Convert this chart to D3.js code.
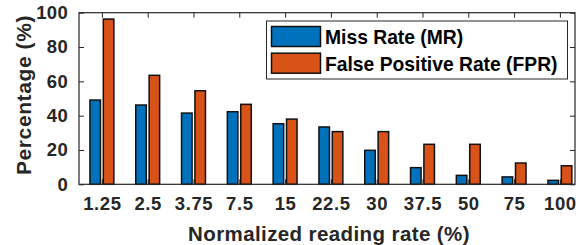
<!DOCTYPE html>
<html>
<head>
<meta charset="utf-8">
<script src="https://cdn.jsdelivr.net/npm/d3@7"></script>
<style>
  body { margin: 0; background: #fff; }
  svg text { font-family: "Liberation Sans", Arial, sans-serif; font-weight: bold; }
</style>
</head>
<body>
<div id="chart"></div>
<script>
// chart data
var rates = ["1.25", "2.5", "3.75", "7.5", "15", "22.5", "30", "37.5", "50", "75", "100"];
var missRate = [49.1, 46.2, 41.5, 42.3, 35.3, 33.4, 19.8, 9.7, 5.2, 4.3, 2.3];
var falsePosRate = [96.3, 63.5, 54.5, 46.6, 38.0, 30.7, 30.7, 23.3, 23.3, 12.4, 10.8];
var yTicks = [0, 20, 40, 60, 80, 100];
var seriesNames = ["Miss Rate (MR)", "False Positive Rate (FPR)"];
var seriesColors = ["#0072BD", "#D95319"];

var svgWidth = 581;
var svgHeight = 245;

var margin = { top: 12.7, right: 6, bottom: 60.7, left: 79 };
var chartWidth = svgWidth - margin.left - margin.right;
var chartHeight = svgHeight - margin.top - margin.bottom;
var axisColor = "#262626";

var svg = d3.select("#chart")
  .append("svg")
  .attr("width", svgWidth)
  .attr("height", svgHeight);

var chartGroup = svg.append("g")
  .attr("transform", `translate(${margin.left}, ${margin.top})`);

// x is numeric (category index), like matlab's bar positions
var x = d3.scaleLinear()
  .domain([0.5, 11.33])
  .range([0, chartWidth]);

var y = d3.scaleLinear()
  .domain([0, 100])
  .range([chartHeight, 0]);

var barOffset = 0.146;
var barWidth = x(0.23) - x(0);

// axes (ticks pointing inward on all four sides)
var tickIdx = rates.map((d, i) => i + 1);
chartGroup.append("g")
  .attr("transform", "translate(0," + chartHeight + ")")
  .call(d3.axisBottom(x).tickValues(tickIdx).tickSize(-5).tickPadding(13)
    .tickFormat((d, i) => rates[i]))
  .call(g => g.selectAll("text").style("font-size", "18.5px").attr("letter-spacing", "0.6px"));
chartGroup.append("g")
  .call(d3.axisTop(x).tickValues(tickIdx).tickSize(-5).tickFormat(""));
chartGroup.append("g")
  .call(d3.axisLeft(y).tickValues(yTicks).tickSize(-5).tickPadding(11))
  .call(g => g.selectAll("text").style("font-size", "18.5px").attr("letter-spacing", "0.3px"));
chartGroup.append("g")
  .attr("transform", "translate(" + chartWidth + ",0)")
  .call(d3.axisRight(y).tickValues(yTicks).tickSize(-5).tickFormat(""));

chartGroup.selectAll(".domain").remove();
chartGroup.selectAll(".tick line").attr("stroke", axisColor);
chartGroup.selectAll(".tick text").attr("fill", axisColor);

// bars
var series = [missRate, falsePosRate];
series.forEach(function(vals, s) {
  chartGroup.append("g")
    .selectAll("rect")
    .data(vals)
    .enter()
    .append("rect")
    .attr("x", (d, i) => x(i + 1 + (s === 0 ? -barOffset : barOffset)) - barWidth / 2)
    .attr("y", d => y(d))
    .attr("width", barWidth)
    .attr("height", d => y(0) - y(d))
    .attr("fill", seriesColors[s])
    .attr("stroke", "#111")
    .attr("stroke-width", 1.5);
});

// box around the plot
chartGroup.append("rect")
  .attr("x", 0)
  .attr("y", 0)
  .attr("width", chartWidth)
  .attr("height", chartHeight)
  .attr("fill", "none")
  .attr("stroke", axisColor)
  .attr("stroke-width", 1.2);

// legend
var legend = svg.append("g").attr("transform", "translate(266.5, 21)");
legend.append("rect")
  .attr("width", 301)
  .attr("height", 58)
  .attr("fill", "#fff")
  .attr("stroke", axisColor)
  .attr("stroke-width", 1);
seriesNames.forEach(function(name, i) {
  legend.append("rect")
    .attr("x", 5)
    .attr("y", 5.5 + i * 26.7)
    .attr("width", 49)
    .attr("height", 20)
    .attr("fill", seriesColors[i])
    .attr("stroke", "#111")
    .attr("stroke-width", 1.5);
  legend.append("text")
    .attr("x", 58.5)
    .attr("y", 23 + i * 26.7)
    .style("font-size", "19.3px")
    .attr("fill", "#000")
    .text(name);
});

// axis labels
svg.append("text")
  .attr("text-anchor", "middle")
  .attr("x", margin.left + chartWidth / 2 + 2)
  .attr("y", 241)
  .style("font-size", "20.5px")
  .attr("letter-spacing", "0.4px")
  .attr("fill", axisColor)
  .text("Normalized reading rate (%)");
svg.append("text")
  .attr("transform", "rotate(-90)")
  .attr("x", -95)
  .attr("y", 31)
  .style("text-anchor", "middle")
  .style("font-size", "21px")
  .attr("letter-spacing", "0.6px")
  .attr("fill", axisColor)
  .text("Percentage (%)");
</script>
</body>
</html>
